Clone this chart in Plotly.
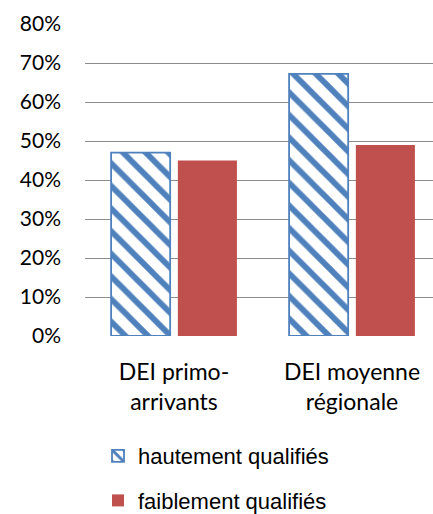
import plotly.graph_objects as go

categories = ["DEI primo-<br>arrivants", "DEI moyenne<br>régionale"]
series_names = ["hautement qualifiés", "faiblement qualifiés"]
high_values = [0.47, 0.672]
low_values = [0.45, 0.49]
tick_vals = [0, 0.1, 0.2, 0.3, 0.4, 0.5, 0.6, 0.7, 0.8]
tick_text = ["0%", "10%", "20%", "30%", "40%", "50%", "60%", "70%", "80%"]

blue = "#4F81BD"
red = "#C0504D"

fig = go.Figure()
fig.add_trace(go.Bar(
    x=[0, 1], y=high_values, name=series_names[0], legendgroup="a",
    marker=dict(color="white", line=dict(color=blue, width=1.8),
                pattern=dict(shape="\\", fgcolor=blue, bgcolor="white",
                             fgopacity=1, size=16, solidity=0.36,
                             fillmode="replace")),
))
fig.add_trace(go.Bar(
    x=[0, 1], y=low_values, name=series_names[1], legendgroup="b",
    marker=dict(color=red, line=dict(width=0)),
))

W, H = 433, 514
left, right, top, bottom = 85, 0, 24, 178

fig.update_layout(
    width=W, height=H,
    margin=dict(l=left, r=right, t=top, b=bottom, pad=0, autoexpand=False),
    paper_bgcolor="white", plot_bgcolor="white",
    barmode="group", bargap=0.25, bargroupgap=0.115,
    showlegend=True,
    legend=dict(x=98 / W, xref="container", xanchor="left",
                y=(H - 435) / H, yref="container", yanchor="top",
                font=dict(family="Liberation Sans", size=22, color="black"),
                tracegroupgap=13, itemwidth=30),
    xaxis=dict(range=[-0.5, 1.455], tickvals=[0, 1], ticktext=categories,
               showgrid=False, zeroline=False, showline=False, ticks="",
               ticklabelstandoff=20,
               tickfont=dict(family="Lato", size=23, color="black")),
    yaxis=dict(range=[0, 0.8], tickvals=tick_vals, ticktext=tick_text,
               showgrid=True, gridcolor="#8C8C8C", gridwidth=1.3,
               zeroline=False, showline=False, ticks="", ticklabelstandoff=23,
               tickfont=dict(family="Lato", size=21, color="black")),
)

fig.write_html("out.html")
